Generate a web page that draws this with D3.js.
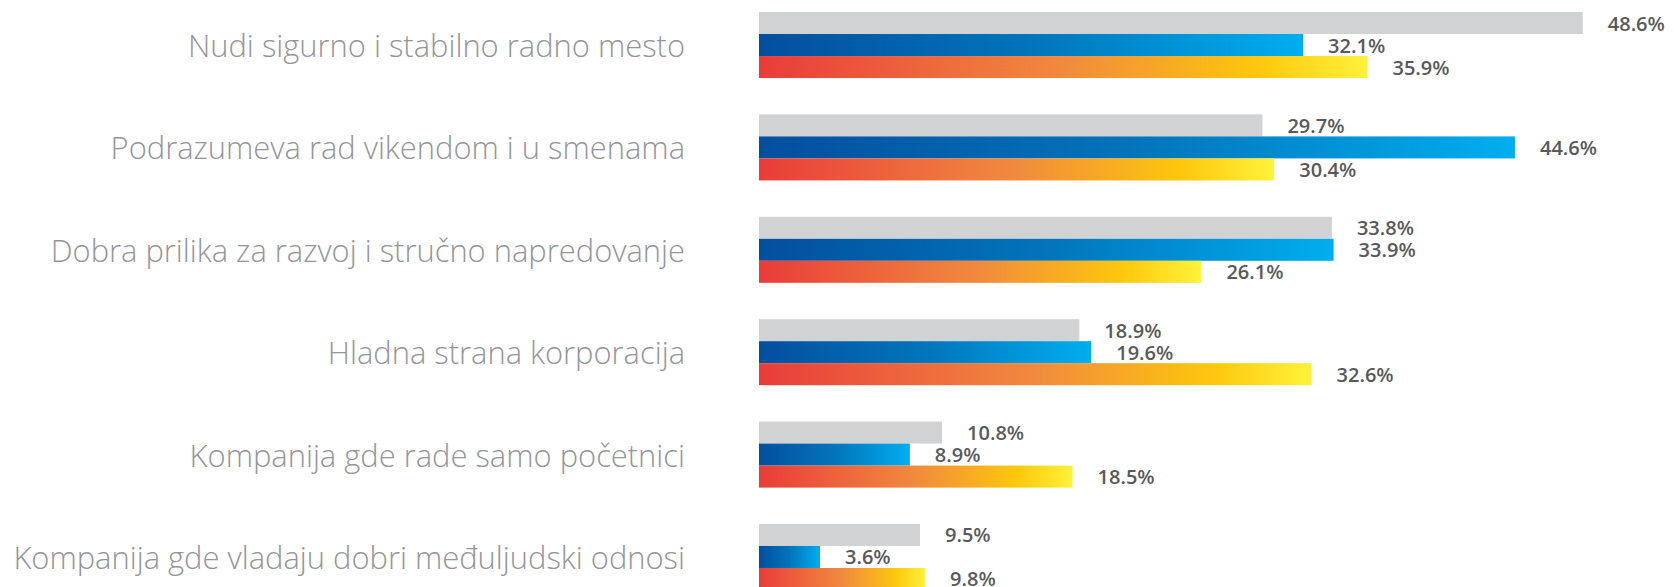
<!DOCTYPE html>
<html>
<head>
<meta charset="utf-8">
<script src="https://cdn.jsdelivr.net/npm/d3@7"></script>
<style>
  body { margin: 0; background: #fff; }
  svg { display: block; }
</style>
</head>
<body>
<div id="chart"></div>
<script>
// ========================
// Data
// ========================
const categories = [
    "Nudi sigurno i stabilno radno mesto",
    "Podrazumeva rad vikendom i u smenama",
    "Dobra prilika za razvoj i stručno napredovanje",
    "Hladna strana korporacija",
    "Kompanija gde rade samo početnici",
    "Kompanija gde vladaju dobri međuljudski odnosi"
];
const series = ["gray", "blue", "orange"];
const grayValues   = [48.6, 29.7, 33.8, 18.9, 10.8, 9.5];
const blueValues   = [32.1, 44.6, 33.9, 19.6, 8.9, 3.6];
const orangeValues = [35.9, 30.4, 26.1, 32.6, 18.5, 9.8];

const rows = categories.map((c, i) => ({
    category: c,
    values: [
        { key: "gray", value: grayValues[i] },
        { key: "blue", value: blueValues[i] },
        { key: "orange", value: orangeValues[i] }
    ]
}));

// ========================
// Setup
// ========================
const width = 1674;
const height = 587;
const x0 = 759;
const labelRight = 685;
const longestLabelWidth = 672; // widest category label in the original

const svg = d3.select("#chart")
    .append("svg")
    .attr("width", width)
    .attr("height", height);

const defs = svg.append("defs");

// gradients span each bar's own length (objectBoundingBox)
const blueGrad = defs.append("linearGradient").attr("id", "grad-blue");
blueGrad.append("stop").attr("offset", "0%").attr("stop-color", "#034f9e");
blueGrad.append("stop").attr("offset", "50%").attr("stop-color", "#0274bb");
blueGrad.append("stop").attr("offset", "100%").attr("stop-color", "#00aeef");

const orangeGrad = defs.append("linearGradient").attr("id", "grad-orange");
orangeGrad.append("stop").attr("offset", "0%").attr("stop-color", "#e93c3a");
orangeGrad.append("stop").attr("offset", "50%").attr("stop-color", "#f18a3e");
orangeGrad.append("stop").attr("offset", "82%").attr("stop-color", "#fdc70c");
orangeGrad.append("stop").attr("offset", "100%").attr("stop-color", "#fff23a");

const fills = { gray: "#d1d2d4", blue: "url(#grad-blue)", orange: "url(#grad-orange)" };

// --- Scales ---
const x = d3.scaleLinear()
    .domain([0, 50])
    .range([x0, x0 + 847.5]);

const y = d3.scaleBand()
    .domain(categories)
    .range([12, 590])
    .paddingInner(0.355)
    .paddingOuter(0);

const ySub = d3.scaleBand()
    .domain(series)
    .range([0, y.bandwidth()]);

// ========================
// Groups
// ========================
const groups = svg.selectAll(".group")
    .data(rows)
    .enter()
    .append("g")
    .attr("class", "group")
    .attr("transform", d => `translate(0,${y(d.category)})`);

// category labels
const catLabels = groups.append("text")
    .attr("x", labelRight)
    .attr("y", y.bandwidth() / 2)
    .attr("text-anchor", "end")
    .attr("dominant-baseline", "central")
    .style("font-family", "'Open Sans', sans-serif")
    .style("font-weight", 300)
    .style("font-size", "27px")
    .style("fill", "#939598")
    .text(d => d.category);

// size font so the widest label matches the original width
const maxW = d3.max(catLabels.nodes(), n => n.getComputedTextLength());
catLabels.style("font-size", (27 * longestLabelWidth / maxW) + "px");

// bars
groups.selectAll("rect")
    .data(d => d.values)
    .enter()
    .append("rect")
    .attr("x", x(0))
    .attr("y", d => ySub(d.key))
    .attr("width", d => x(d.value) - x(0))
    .attr("height", ySub.bandwidth())
    .attr("fill", d => fills[d.key]);

// value labels
groups.selectAll(".value-label")
    .data(d => d.values)
    .enter()
    .append("text")
    .attr("class", "value-label")
    .attr("x", d => x(d.value) + 25)
    .attr("y", d => ySub(d.key) + ySub.bandwidth() / 2)
    .attr("dominant-baseline", "central")
    .style("font-family", "'Open Sans', sans-serif")
    .style("font-weight", 600)
    .style("font-size", "20px")
    .style("fill", "#58595b")
    .text(d => d.value.toFixed(1) + "%");
</script>
</body>
</html>
